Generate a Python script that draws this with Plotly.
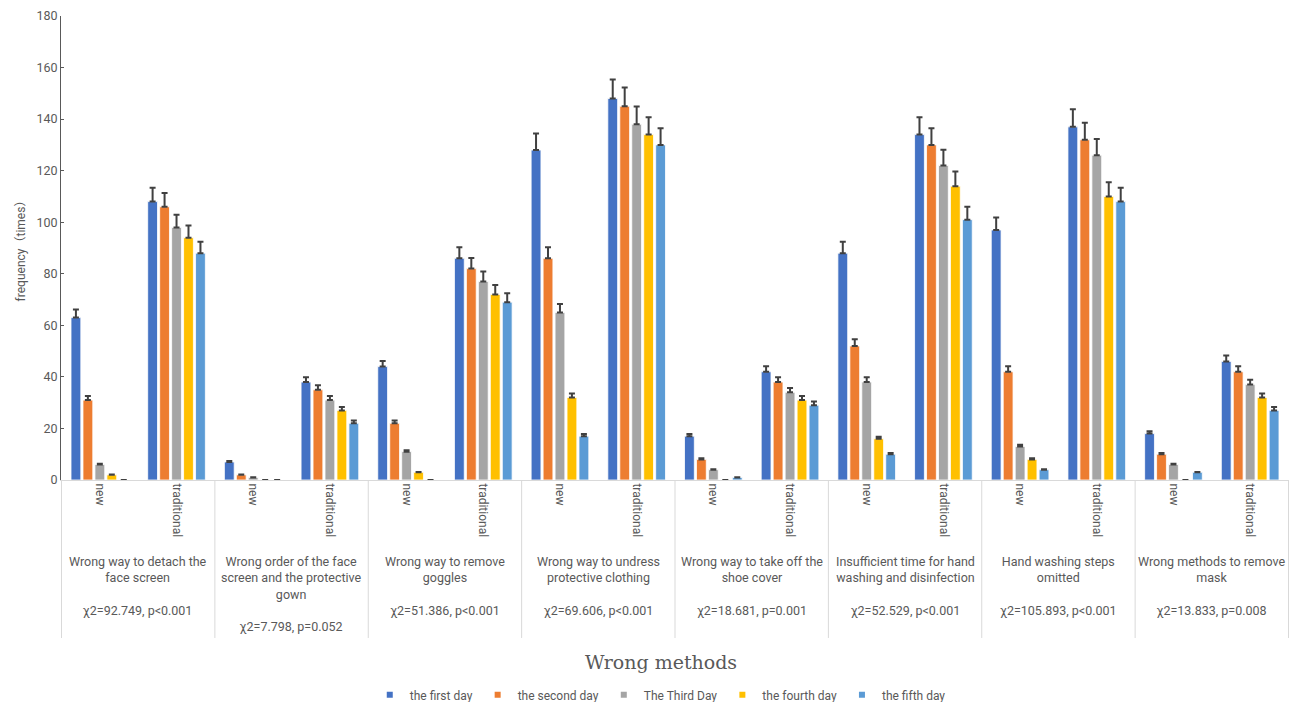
import plotly.graph_objects as go

# ---------------- data ----------------
groups = [
    "Wrong way to detach the<br>face screen<br><br>χ2=92.749, p<0.001",
    "Wrong order of the face<br>screen and the protective<br>gown<br><br>χ2=7.798, p=0.052",
    "Wrong way to remove<br>goggles<br><br>χ2=51.386, p<0.001",
    "Wrong way to undress<br>protective clothing<br><br>χ2=69.606, p<0.001",
    "Wrong way to take off the<br>shoe cover<br><br>χ2=18.681, p=0.001",
    "Insufficient time for hand<br>washing and disinfection<br><br>χ2=52.529, p<0.001",
    "Hand washing steps<br>omitted<br><br>χ2=105.893, p<0.001",
    "Wrong methods to remove<br>mask<br><br>χ2=13.833, p=0.008",
]
sub_labels = ["new", "traditional"]

series_names = ["the first day", "the second day", "The Third Day",
                "the fourth day", "the fifth day"]

# values ordered: group1-new, group1-traditional, group2-new, ...
day1 = [63, 108, 7, 38, 44, 86, 128, 148, 17, 42, 88, 134, 97, 137, 18, 46]
day2 = [31, 106, 2, 35, 22, 82, 86, 145, 8, 38, 52, 130, 42, 132, 10, 42]
day3 = [6, 98, 1, 31, 11, 77, 65, 138, 4, 34, 38, 122, 13, 126, 6, 37]
day4 = [2, 94, 0, 27, 3, 72, 32, 134, 0, 31, 16, 114, 8, 110, 0, 32]
day5 = [0, 88, 0, 22, 0, 69, 17, 130, 1, 29, 10, 101, 4, 108, 3, 27]
series_values = [day1, day2, day3, day4, day5]

error_percent = 5

y_ticks = [0, 20, 40, 60, 80, 100, 120, 140, 160, 180]

colors = ["#4472C4", "#ED7D31", "#A5A5A5", "#FFC000", "#5B9BD5"]

# ---------------- figure ----------------
cats = [f"g{i // 2}_{sub_labels[i % 2]}" for i in range(len(groups) * 2)]
tick_text = [sub_labels[i % 2] for i in range(len(cats))]

FONT = "Roboto, Noto Sans CJK SC, sans-serif"
GRAY = "#595959"

fig = go.Figure()
for name, vals, col in zip(series_names, series_values, colors):
    fig.add_trace(go.Bar(
        x=cats, y=vals, name=name, showlegend=False,
        marker=dict(color=col, line=dict(color="white", width=0.8)),
        error_y=dict(type="percent", value=error_percent, valueminus=0,
                     symmetric=False, color="#404040", thickness=2, width=3),
    ))
    # legend-only entry with small square marker
    fig.add_trace(go.Scatter(
        x=[None], y=[None], mode="markers", name=name,
        marker=dict(symbol="square", size=6, color=col),
    ))

# group labels (second level of category axis)
for gi, g in enumerate(groups):
    fig.add_annotation(
        x=2 * gi + 0.5, xref="x", y=-0.156, yref="paper",
        text=g, showarrow=False, xanchor="center", yanchor="top",
        align="center", font=dict(family=FONT, size=12.5, color=GRAY),
    )

# dividers between groups
for gi in range(len(groups) + 1):
    fig.add_shape(
        type="line", xref="x", yref="paper",
        x0=2 * gi - 0.5, x1=2 * gi - 0.5, y0=0, y1=-0.3405,
        line=dict(color="#D9D9D9", width=1),
    )

# x-axis title
fig.add_annotation(
    x=0.4886, xref="paper", y=-0.392, yref="paper",
    text="Wrong methods", showarrow=False, xanchor="center", yanchor="middle",
    font=dict(family="DejaVu Serif", size=19, color=GRAY),
)

fig.update_layout(
    width=1289, height=702,
    margin=dict(l=61, r=0, t=16, b=222, autoexpand=False),
    plot_bgcolor="white", paper_bgcolor="white",
    barmode="group", bargap=0.22, bargroupgap=0.18,
    font=dict(family=FONT, size=12, color=GRAY),
    legend=dict(orientation="h", x=0.488, xanchor="center",
                y=-0.463, yanchor="middle",
                font=dict(family=FONT, size=12, color=GRAY),
                itemwidth=30, tracegroupgap=0),
    showlegend=True,
)
fig.update_xaxes(
    type="category", tickmode="array", tickvals=cats, ticktext=tick_text,
    tickangle=90, showline=True, linecolor="#D9D9D9", linewidth=1,
    showgrid=False, ticks="", zeroline=False, automargin=False,
    tickfont=dict(family=FONT, size=12, color=GRAY),
)
fig.update_yaxes(
    range=[0, 180], tickmode="array", tickvals=y_ticks,
    showline=True, linecolor=GRAY, linewidth=1, showgrid=False,
    ticks="inside", ticklen=3, tickcolor=GRAY, zeroline=False,
    automargin=False,
    tickfont=dict(family=FONT, size=12.5, color=GRAY),
    title=dict(text="frequency（times）",
               font=dict(family=FONT, size=12, color=GRAY), standoff=8),
)

fig.write_html(
    "out.html",
    config={"displayModeBar": False},
    post_script="document.body.style.margin='0';"
                "document.body.style.overflow='hidden';",
)
